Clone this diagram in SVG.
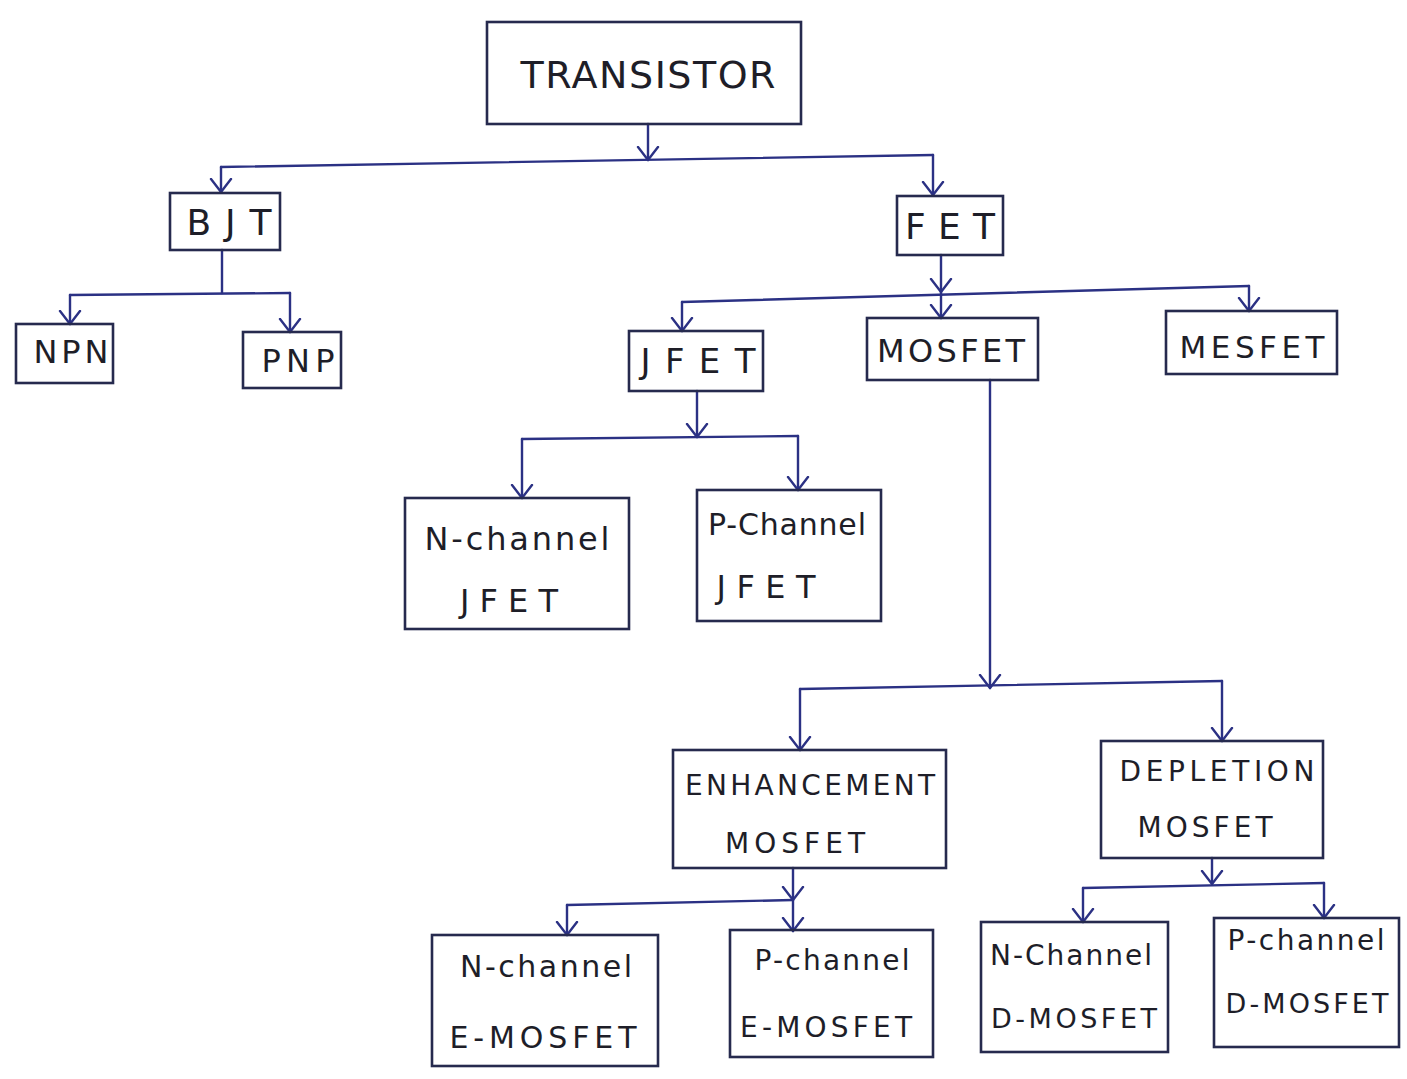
<svg xmlns="http://www.w3.org/2000/svg" width="1407" height="1079" viewBox="0 0 1407 1079">
<defs>
<style>
.box{fill:none;stroke:#262a4e;stroke-width:2.6}
.t{font-family:"DejaVu Sans","Liberation Sans",sans-serif;fill:#1e1e28;text-anchor:middle}
.c{fill:none;stroke:#2b3184;stroke-width:2.4;stroke-linecap:round;stroke-linejoin:round}
</style>
<marker id="v" viewBox="-14 -12 16 24" markerWidth="16" markerHeight="24" refX="0" refY="0" orient="auto" markerUnits="userSpaceOnUse">
<path d="M-13,-10 L0,0 L-13,10" fill="none" stroke="#2b3184" stroke-width="2.4" stroke-linecap="round" stroke-linejoin="round"/>
</marker>
</defs>
<rect width="1407" height="1079" fill="#ffffff"/>

<g id="connectors">
<line class="c" x1="648" y1="124" x2="648" y2="160" marker-end="url(#v)"/>
<polyline class="c" points="221,167 933,155"/>
<line class="c" x1="221" y1="167" x2="221" y2="192" marker-end="url(#v)"/>
<line class="c" x1="933" y1="155" x2="933" y2="195" marker-end="url(#v)"/>

<line class="c" x1="222" y1="250" x2="222" y2="293"/>
<polyline class="c" points="70,295 290,293"/>
<line class="c" x1="70" y1="295" x2="70" y2="324" marker-end="url(#v)"/>
<line class="c" x1="290" y1="293" x2="290" y2="332" marker-end="url(#v)"/>

<line class="c" x1="941" y1="255" x2="941" y2="292" marker-end="url(#v)"/>
<polyline class="c" points="682,302 1249,286"/>
<line class="c" x1="941" y1="292" x2="941" y2="318" marker-end="url(#v)"/>
<line class="c" x1="682" y1="302" x2="682" y2="331" marker-end="url(#v)"/>
<line class="c" x1="1249" y1="286" x2="1249" y2="311" marker-end="url(#v)"/>

<line class="c" x1="697" y1="391" x2="697" y2="437" marker-end="url(#v)"/>
<polyline class="c" points="522,439 798,436"/>
<line class="c" x1="522" y1="439" x2="522" y2="498" marker-end="url(#v)"/>
<line class="c" x1="798" y1="436" x2="798" y2="490" marker-end="url(#v)"/>

<line class="c" x1="990" y1="380" x2="990" y2="688" marker-end="url(#v)"/>
<polyline class="c" points="800,689 1222,681"/>
<line class="c" x1="800" y1="689" x2="800" y2="750" marker-end="url(#v)"/>
<line class="c" x1="1222" y1="681" x2="1222" y2="741" marker-end="url(#v)"/>

<line class="c" x1="793" y1="868" x2="793" y2="900" marker-end="url(#v)"/>
<polyline class="c" points="567,905 793,900"/>
<line class="c" x1="793" y1="900" x2="793" y2="931" marker-end="url(#v)"/>
<line class="c" x1="567" y1="905" x2="567" y2="935" marker-end="url(#v)"/>

<line class="c" x1="1212" y1="858" x2="1212" y2="884" marker-end="url(#v)"/>
<polyline class="c" points="1083,888 1324,883"/>
<line class="c" x1="1083" y1="888" x2="1083" y2="922" marker-end="url(#v)"/>
<line class="c" x1="1324" y1="883" x2="1324" y2="918" marker-end="url(#v)"/>
</g>

<g id="transistor"><rect class="box" x="487" y="22" width="314" height="102"/><text class="t" x="648" y="88" font-size="38" textLength="255" lengthAdjust="spacing">TRANSISTOR</text></g>
<g id="bjt"><rect class="box" x="170" y="193" width="110" height="57"/><text class="t" x="229" y="235" font-size="36" textLength="85" lengthAdjust="spacing">BJT</text></g>
<g id="fet"><rect class="box" x="897" y="196" width="106" height="59"/><text class="t" x="950" y="239" font-size="36" textLength="90" lengthAdjust="spacing">FET</text></g>
<g id="npn"><rect class="box" x="16" y="324" width="97" height="59"/><text class="t" x="71" y="363" font-size="32" textLength="75" lengthAdjust="spacing">NPN</text></g>
<g id="pnp"><rect class="box" x="243" y="332" width="98" height="56"/><text class="t" x="298" y="372" font-size="32" textLength="73" lengthAdjust="spacing">PNP</text></g>
<g id="jfet"><rect class="box" x="629" y="331" width="134" height="60"/><text class="t" x="698" y="373" font-size="34" textLength="115" lengthAdjust="spacing">JFET</text></g>
<g id="mosfet"><rect class="box" x="867" y="318" width="171" height="62"/><text class="t" x="951" y="362" font-size="32" textLength="148" lengthAdjust="spacing">MOSFET</text></g>
<g id="mesfet"><rect class="box" x="1166" y="311" width="171" height="63"/><text class="t" x="1252" y="358" font-size="31" textLength="145" lengthAdjust="spacing">MESFET</text></g>
<g id="n-channel-jfet"><rect class="box" x="405" y="498" width="224" height="131"/><text class="t" x="517" y="550" font-size="32" textLength="185" lengthAdjust="spacing">N-channel</text><text class="t" x="509" y="612" font-size="32" textLength="98" lengthAdjust="spacing">JFET</text></g>
<g id="p-channel-jfet"><rect class="box" x="697" y="490" width="184" height="131"/><text class="t" x="787" y="535" font-size="30" textLength="158" lengthAdjust="spacing">P-Channel</text><text class="t" x="766" y="598" font-size="32" textLength="99" lengthAdjust="spacing">JFET</text></g>
<g id="enhancement-mosfet"><rect class="box" x="673" y="750" width="273" height="118"/><text class="t" x="810" y="795" font-size="28" textLength="250" lengthAdjust="spacing">ENHANCEMENT</text><text class="t" x="795" y="853" font-size="28" textLength="140" lengthAdjust="spacing">MOSFET</text></g>
<g id="depletion-mosfet"><rect class="box" x="1101" y="741" width="222" height="117"/><text class="t" x="1217" y="781" font-size="28" textLength="195" lengthAdjust="spacing">DEPLETION</text><text class="t" x="1205" y="837" font-size="28" textLength="135" lengthAdjust="spacing">MOSFET</text></g>
<g id="n-channel-e-mosfet"><rect class="box" x="432" y="935" width="226" height="131"/><text class="t" x="546" y="977" font-size="30" textLength="172" lengthAdjust="spacing">N-channel</text><text class="t" x="543" y="1048" font-size="30" textLength="187" lengthAdjust="spacing">E-MOSFET</text></g>
<g id="p-channel-e-mosfet"><rect class="box" x="730" y="930" width="203" height="127"/><text class="t" x="832" y="970" font-size="28" textLength="155" lengthAdjust="spacing">P-channel</text><text class="t" x="826" y="1037" font-size="28" textLength="172" lengthAdjust="spacing">E-MOSFET</text></g>
<g id="n-channel-d-mosfet"><rect class="box" x="981" y="922" width="187" height="130"/><text class="t" x="1071" y="965" font-size="28" textLength="162" lengthAdjust="spacing">N-Channel</text><text class="t" x="1074" y="1028" font-size="27" textLength="166" lengthAdjust="spacing">D-MOSFET</text></g>
<g id="p-channel-d-mosfet"><rect class="box" x="1214" y="918" width="185" height="129"/><text class="t" x="1306" y="950" font-size="28" textLength="157" lengthAdjust="spacing">P-channel</text><text class="t" x="1307" y="1013" font-size="27" textLength="163" lengthAdjust="spacing">D-MOSFET</text></g>
</svg>
